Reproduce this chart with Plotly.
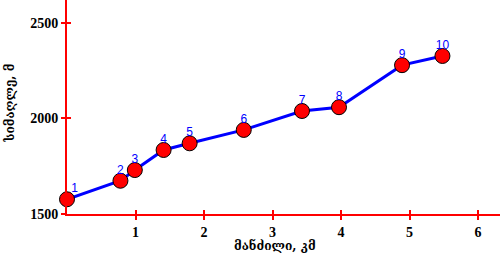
import plotly.graph_objects as go

distance_km = [0.0, 0.78, 0.99, 1.41, 1.79, 2.58, 3.43, 3.97, 4.89, 5.48]
height_m = [1577, 1674, 1730, 1835, 1870, 1940, 2039, 2059, 2279, 2327]
point_labels = ["1", "2", "3", "4", "5", "6", "7", "8", "9", "10"]
x_ticks = [1, 2, 3, 4, 5, 6]
y_ticks = [1500, 2000, 2500]
x_title = "მანძილი, კმ"
y_title = "სიმაღლე, მ"

x_range = [0, 6.32]
y_range = [1500, 2620]

positions = ["top right"] + ["top center"] * (len(point_labels) - 1)

fig = go.Figure()
fig.add_trace(go.Scatter(
    x=distance_km, y=height_m, mode="lines+markers",
    line=dict(color="#0000ff", width=3),
    marker=dict(size=15, color="#ff0000", line=dict(color="#000000", width=1)),
    cliponaxis=False, showlegend=False,
))
fig.add_trace(go.Scatter(
    x=distance_km, y=height_m, mode="markers+text",
    text=point_labels, textposition=positions,
    textfont=dict(family="Liberation Sans", size=12, color="#0000ff"),
    marker=dict(size=5, color="rgba(0,0,0,0)"),
    cliponaxis=False, showlegend=False, hoverinfo="skip",
))

tickfont = dict(family="Liberation Serif", size=14, color="#000000")
fig.update_layout(
    width=500, height=255,
    margin=dict(l=67, r=0, t=0, b=41),
    paper_bgcolor="white", plot_bgcolor="white",
    xaxis=dict(range=x_range, tickvals=x_ticks, ticktext=["<b>%d</b>" % v for v in x_ticks],
               showgrid=False, zeroline=False, showline=True, linecolor="#ff0000", linewidth=2,
               ticks="outside", ticklen=4, tickwidth=2, tickcolor="#ff0000",
               tickfont=tickfont),
    yaxis=dict(range=y_range, tickvals=y_ticks, ticktext=["<b>%d</b>" % v for v in y_ticks],
               showgrid=False, zeroline=False, showline=True, linecolor="#ff0000", linewidth=2,
               ticks="outside", ticklen=4, tickwidth=2, tickcolor="#ff0000",
               tickfont=tickfont),
    xaxis2=dict(range=x_range, overlaying="x", tickvals=x_ticks, showticklabels=False,
                showgrid=False, zeroline=False, showline=False, side="bottom",
                ticks="inside", ticklen=4, tickwidth=2, tickcolor="#ff0000"),
    yaxis2=dict(range=y_range, overlaying="y", tickvals=y_ticks, showticklabels=False,
                showgrid=False, zeroline=False, showline=False, side="left",
                ticks="inside", ticklen=4, tickwidth=2, tickcolor="#ff0000"),
    annotations=[
        dict(text="<b>" + x_title + "</b>", xref="paper", yref="paper", x=0.48, y=-0.145,
             xanchor="center", yanchor="middle", showarrow=False,
             font=dict(family="DejaVu Serif", size=12, color="#000000")),
        dict(text="<b>" + y_title + "</b>", xref="paper", yref="paper", x=-0.132, y=0.52,
             xanchor="center", yanchor="middle", showarrow=False, textangle=-90,
             font=dict(family="DejaVu Serif", size=12, color="#000000")),
    ],
)
fig.add_trace(go.Scatter(x=[None], y=[None], xaxis="x2", yaxis="y2", showlegend=False, hoverinfo="skip"))

fig.write_html("out.html")
